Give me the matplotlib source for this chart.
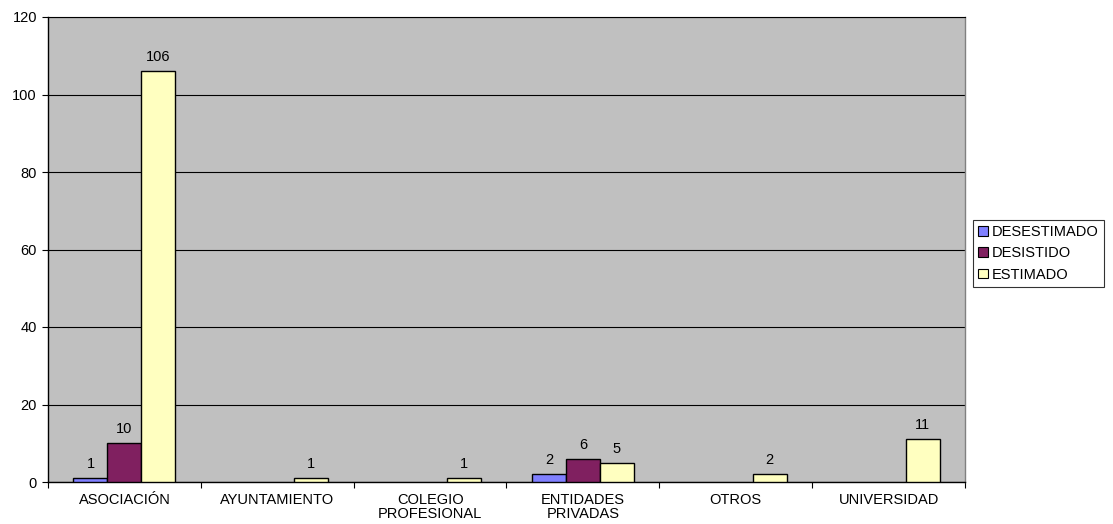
import numpy as np
import matplotlib
matplotlib.use("Agg")
import matplotlib.pyplot as plt
from matplotlib.ticker import FixedLocator, NullFormatter

plt.rcParams['font.family'] = ['Liberation Sans', 'DejaVu Sans']

categories = ["ASOCIACIÓN", "AYUNTAMIENTO", "COLEGIO\nPROFESIONAL",
              "ENTIDADES\nPRIVADAS", "OTROS", "UNIVERSIDAD"]
series_names = ["DESESTIMADO", "DESISTIDO", "ESTIMADO"]
desestimado = [1, None, None, 2, None, None]
desistido = [10, None, None, 6, None, None]
estimado = [106, 1, 1, 5, 2, 11]
y_ticks = [0, 20, 40, 60, 80, 100, 120]

series = [desestimado, desistido, estimado]
colors = ["#8080FF", "#802060", "#FFFFC0"]
FS = 10.5

fig = plt.figure(figsize=(11.13, 5.24), dpi=100)
ax = fig.add_axes([48 / 1113, 42 / 524, (965 - 48) / 1113, (482 - 17) / 524])
ax.set_facecolor("#C0C0C0")

n = len(categories)
x = np.arange(n)
w = 1 / 4.5
offsets = [-w, 0, w]

for vals, c, off, name in zip(series, colors, offsets, series_names):
    xs = [xi + off for xi, v in zip(x, vals) if v is not None]
    vs = [v for v in vals if v is not None]
    ax.bar(xs, vs, width=w, color=c, edgecolor="black", linewidth=1.0,
           label=name, zorder=3)
    for xi, v in zip(xs, vs):
        ax.annotate(str(v), (xi, v), xytext=(0, 5), textcoords="offset points",
                    ha="center", va="bottom", fontsize=FS, color="black")

ax.set_xlim(-0.5, n - 0.5)
ax.set_ylim(0, 120)
ax.set_yticks(y_ticks)
ax.yaxis.grid(True, color="black", linewidth=0.8, zorder=1)
ax.set_axisbelow(True)

ax.set_xticks(x)
ax.set_xticklabels(categories, fontsize=FS, linespacing=1.0)
ax.tick_params(axis="x", which="major", length=0, pad=8)
ax.xaxis.set_minor_locator(FixedLocator(np.arange(-0.5, n, 1.0)))
ax.xaxis.set_minor_formatter(NullFormatter())
ax.tick_params(axis="x", which="minor", length=4, width=0.8, direction="out")
ax.tick_params(axis="y", labelsize=FS, length=4, width=0.8, direction="out", pad=4)

for side in ["left", "bottom", "top"]:
    ax.spines[side].set_color("black")
    ax.spines[side].set_linewidth(1.0)
ax.spines["top"].set_linewidth(0.8)
ax.spines["right"].set_color("#808080")
ax.spines["right"].set_linewidth(1.0)

leg = fig.legend(loc="upper left", bbox_to_anchor=(973 / 1113, 1 - 220 / 524),
                 fontsize=FS, frameon=True, fancybox=False, edgecolor="black",
                 handlelength=0.65, handleheight=0.65, handletextpad=0.3,
                 borderpad=0.35, labelspacing=0.5, borderaxespad=0)
leg.get_frame().set_linewidth(0.8)
for h in leg.legend_handles:
    h.set_linewidth(0.8)

fig.savefig("out.png", dpi=100, facecolor="white")
